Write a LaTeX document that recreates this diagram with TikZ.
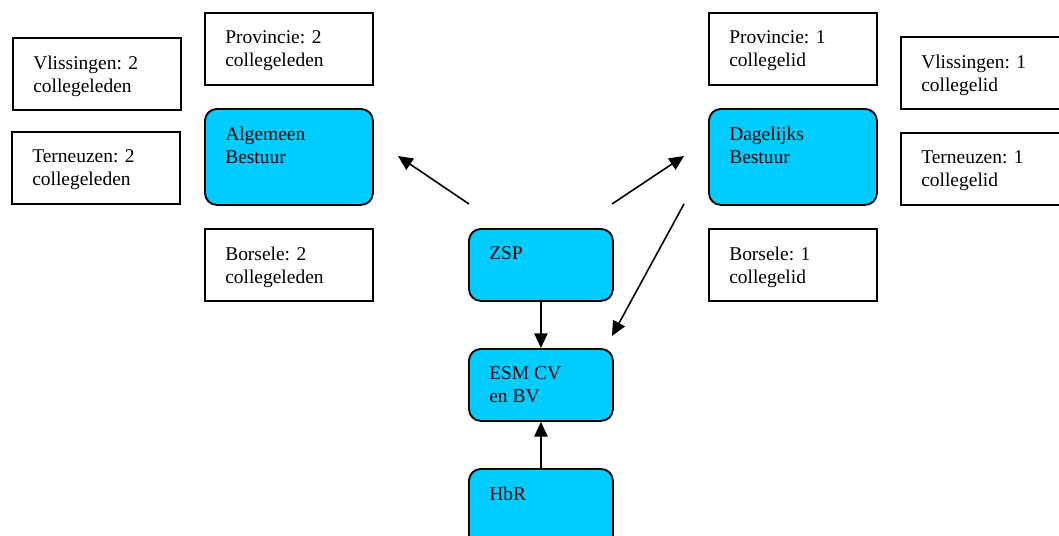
\documentclass[tikz,border=0pt]{standalone}
\usepackage{fontspec}
\setmainfont{Liberation Serif}
\usetikzlibrary{arrows.meta}
\definecolor{boxblue}{HTML}{00CCFF}
\tikzset{
  px/.style={x=0.75pt,y=-0.75pt},
  wbox/.style={draw=black, line width=1.4pt, fill=white, rectangle, inner sep=0pt, anchor=north west,
     minimum width=126pt, minimum height=54pt},
  bbox/.style={draw=black, line width=1.4pt, fill=boxblue, rectangle, rounded corners=9pt, inner sep=0pt, anchor=north west,
     minimum width=126pt},
  txt/.style={label={[anchor=north west, xshift=15.75pt, yshift=-14pt, align=left, inner sep=0pt, font=\fontsize{14.6}{17.25}\selectfont]north west:#1}},
  conn/.style={line width=1.2pt, -{Triangle[length=11pt,width=10pt]}}
}
\begin{document}
\begin{tikzpicture}[px]
\useasboundingbox (0,0) rectangle (1059,535);
\clip (0,0) rectangle (1059,535);
% left side
\node[wbox, txt={Vlissingen: 2\\collegeleden}] (vl) at (12,37) {};
\node[wbox, txt={Terneuzen: 2\\collegeleden}] (tl) at (11,131) {};
\node[wbox, txt={Provincie: 2\\collegeleden}] (pl) at (204,12) {};
\node[bbox, minimum height=72pt, txt={Algemeen\\Bestuur}] (ab) at (204,108) {};
\node[wbox, txt={Borsele: 2\\collegeleden}] (bl) at (204,228) {};
% right side
\node[wbox, txt={Provincie: 1\\collegelid}] (pr) at (708,12) {};
\node[bbox, minimum height=72pt, txt={Dagelijks\\Bestuur}] (db) at (708,108) {};
\node[wbox, txt={Borsele: 1\\collegelid}] (br) at (708,228) {};
\node[wbox, txt={Vlissingen: 1\\collegelid}] (vr) at (900,36) {};
\node[wbox, txt={Terneuzen: 1\\collegelid}] (tr) at (900,132) {};
% centre
\node[bbox, minimum width=108pt, minimum height=54pt, txt={ZSP}] (zsp) at (468,228) {};
\node[bbox, minimum width=108pt, minimum height=54pt, txt={ESM CV\\en BV}] (esm) at (468,348) {};
\node[bbox, minimum width=108pt, minimum height=60pt, txt={HbR}] (hbr) at (468,468) {};
% free arrows
\coordinate (a1s) at (469,204); \coordinate (a1e) at (398,156);
\coordinate (a2s) at (612,204); \coordinate (a2e) at (684,156);
\coordinate (a3s) at (684,204); \coordinate (a3e) at (612,336);
\draw[conn] (a1s) -- (a1e);
\draw[conn] (a2s) -- (a2e);
\draw[conn] (a3s) -- (a3e);
\draw[conn] (zsp.south) -- (esm.north);
\draw[conn] (hbr.north) -- (esm.south);
\end{tikzpicture}
\end{document}
